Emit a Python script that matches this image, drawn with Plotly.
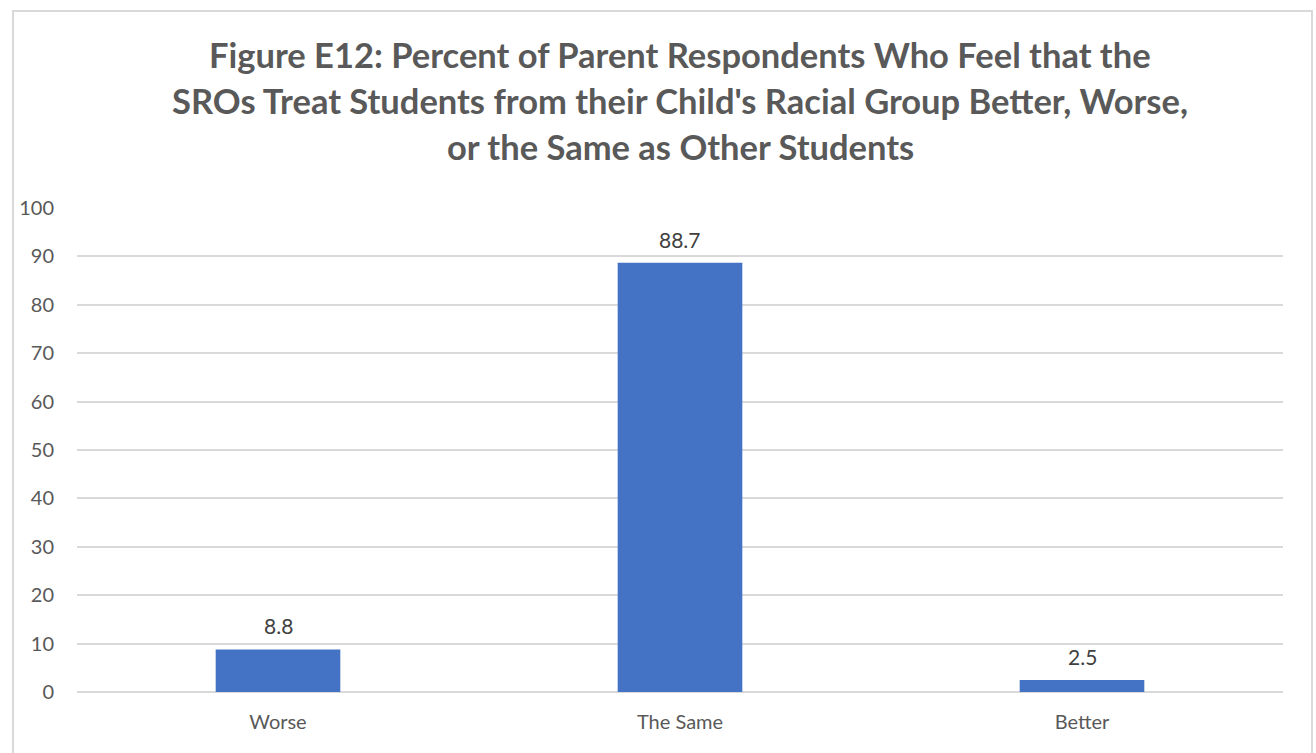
import plotly.graph_objects as go

categories = ["Worse", "The Same", "Better"]
values = [8.8, 88.7, 2.5]
title_lines = [
    "Figure E12: Percent of Parent Respondents Who Feel that the",
    "SROs Treat Students from their Child's Racial Group Better, Worse,",
    "or the Same as Other Students",
]

FONT = "Lato, 'Open Sans', sans-serif"
W, H = 1316, 753
L, R, T, B = 77, 33, 208, 61
PH = H - T - B
PW = W - L - R

fig = go.Figure(go.Bar(
    x=categories, y=values,
    marker=dict(color="#4472C4", line=dict(width=0)),
    width=0.31,
    hoverinfo="x+y",
))

# data labels above bars
for c, v in zip(categories, values):
    fig.add_annotation(x=c, y=v, text=f"{v:.1f}", showarrow=False,
                       yanchor="bottom", yshift=9,
                       font=dict(family=FONT, size=21, color="#404040"))

# title, one annotation per line to control spacing
for i, line in enumerate(title_lines):
    ypix = 54 + i * 46
    fig.add_annotation(x=0.5, xref="paper", y=(H - B - ypix) / PH, yref="paper",
                       text=f"<b>{line}</b>", showarrow=False,
                       xanchor="center", yanchor="middle",
                       font=dict(family=FONT, size=34.5, color="#595959"))

# outer chart border
fig.add_shape(type="rect", xref="paper", yref="paper",
              x0=(13 - L) / PW, x1=(1312 - L) / PW,
              y0=(H - B - 760) / PH, y1=(H - B - 11) / PH,
              line=dict(color="#D9D9D9", width=2), fillcolor="rgba(0,0,0,0)",
              layer="below")

fig.update_layout(
    width=W, height=H,
    margin=dict(l=L, r=R, t=T, b=B),
    plot_bgcolor="white", paper_bgcolor="white",
    showlegend=False,
    font=dict(family=FONT, size=20, color="#595959"),
)
fig.update_xaxes(showgrid=False, showline=False, ticks="", ticklabelstandoff=16,
                 tickfont=dict(family=FONT, size=20, color="#595959"))
fig.update_yaxes(range=[0, 100], dtick=10, showgrid=True, gridcolor="#D9D9D9",
                 gridwidth=1.5, zeroline=True, zerolinecolor="#D9D9D9", zerolinewidth=1.5,
                 showline=False, ticks="", ticklabelstandoff=22,
                 tickfont=dict(family=FONT, size=20, color="#595959"))

fig.write_html("out.html", config={"displayModeBar": False},
               post_script="document.body.style.margin='0';")
